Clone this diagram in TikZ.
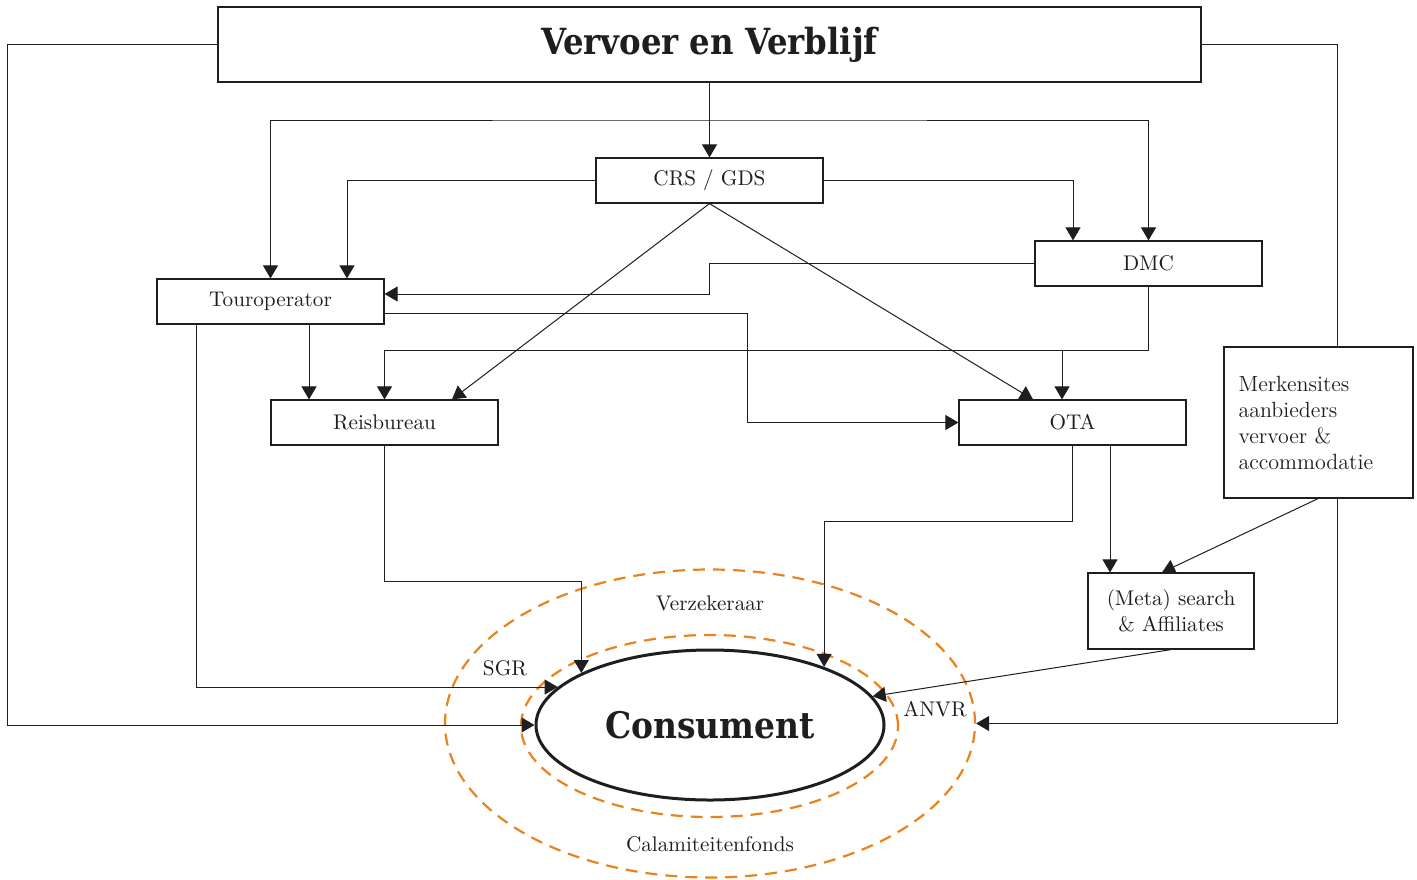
\documentclass[tikz,border=0pt]{standalone}
\usepackage{fontspec}
\usetikzlibrary{shapes.geometric,arrows.meta,calc}
\newfontfamily\heavyslab{DejaVu Serif Condensed}
\definecolor{ink}{RGB}{30,30,32}
\definecolor{dashorange}{RGB}{234,130,30}
\tikzset{
  box/.style={draw=ink,line width=0.6pt,fill=white,rectangle,inner sep=0pt,
    minimum width=113.5pt,minimum height=22.5pt,text=ink,
    font=\fontsize{10.6}{13}\selectfont},
  conn/.style={draw=ink,line width=0.5pt},
  arr/.style={conn,-{Triangle[length=6.5pt,width=7.5pt]}},
  lbl/.style={text=ink,font=\fontsize{10.6}{13}\selectfont,inner sep=0pt},
  orangering/.style={draw=dashorange,line width=1.1pt,dash pattern=on 6pt off 4pt,
    ellipse,inner sep=0pt}
}
\begin{document}
\begin{tikzpicture}[x=0.5pt,y=-0.5pt]
\useasboundingbox (0,0) rectangle (1417,879);
% rings
\node[orangering,minimum width=265pt,minimum height=154pt] (outer) at (710,723.5) {};
\node[orangering,minimum width=188.5pt,minimum height=91pt] (inner) at (709.5,726) {};
\node[draw=ink,line width=1.5pt,ellipse,inner sep=0pt,minimum width=174pt,minimum height=75pt,
  text=ink,font=\heavyslab\bfseries\fontsize{18.3}{20}\selectfont] (cons) at (710,725) {Consument};
% boxes
\node[box,minimum width=491.5pt,minimum height=37.5pt,
  font=\heavyslab\bfseries\fontsize{18}{20}\selectfont] (title) at (709.5,44.5) {Vervoer en Verblijf};
\node[box] (crs) at (709.5,180.5) {CRS / GDS};
\node[box] (dmc) at (1148.5,263.5) {DMC};
\node[box] (touro) at (270.5,301.5) {Touroperator};
\node[box] (reis) at (384.5,422.5) {Reisbureau};
\node[box] (ota) at (1072.5,422.5) {OTA};
\node[box,minimum width=94.5pt,minimum height=75.5pt,text width=80pt,align=left,
  inner xsep=7.25pt,font=\fontsize{11}{13}\selectfont] (merk) at (1318.5,422.5)
  {Merkensites\\aanbieders\\vervoer \&\\accommodatie};
\node[box,minimum width=83pt,minimum height=38pt,align=center] (meta) at (1171,611)
  {(Meta) search\\\& Affiliates};
% labels
\node[lbl] (verz) at (710,603) {Verzekeraar};
\node[lbl] (sgr) at (505,668) {SGR};
\node[lbl] (anvr) at (935,709) {ANVR};
\node[lbl] (cal) at (710,844) {Calamiteitenfonds};
% helper coordinates
\coordinate (ty) at (710,120);
\coordinate (y350) at (0,350);
\coordinate (y581) at (0,581);
\coordinate (mx) at (747,0);
\coordinate (lx) at (7,0);
\coordinate (rx) at (1337,0);
\coordinate (tp) at ([yshift=3.75pt]touro.east);
% connectors
\draw[arr] (title.south) -- (crs.north);
\draw[conn,{Triangle[length=6.5pt,width=7.5pt]}-{Triangle[length=6.5pt,width=7.5pt]}]
  (touro.north) |- (ty) -| (dmc.north);
\draw[arr] (crs.west) -| ([xshift=38.25pt]touro.north);
\draw[arr] (crs.east) -| ([xshift=-37.75pt]dmc.north);
\draw[arr] (dmc.west) -| (crs.center |- tp) -- (tp);
\draw[arr] ([yshift=-5.75pt]touro.east) -| (mx |- ota.west) -- (ota.west);
\draw[arr] (crs.south) -- ([xshift=33.75pt]reis.north);
\draw[arr] (crs.south) -- ([xshift=-19.75pt]ota.north);
\draw[arr] (dmc.south) |- (reis.north |- y350) -- (reis.north);
\draw[arr] ([xshift=-5.25pt]ota.north |- y350) -- ([xshift=-5.25pt]ota.north);
\draw[arr] ([xshift=19.25pt]touro.south) -- ([xshift=19.25pt]touro.south |- reis.north);
\draw[arr] ([xshift=-37.25pt]touro.south) |- (cons.166);
\draw[arr] (reis.south) -- (reis.south |- y581) -| (cons.158);
\draw[arr] (ota.south) -- ++(0,76) -| (cons.27);
\draw[arr] ([xshift=18.75pt]ota.south) -- ([xshift=18.75pt]ota.south |- meta.north);
\draw[arr] ([xshift=-0.25pt]merk.south) -- ([xshift=-4.5pt]meta.north);
\draw[arr] (meta.south) -- (cons.10);
\draw[arr] (title.west) -| (lx |- cons.west) -- (cons.west);
\draw[conn] (title.east) -| (rx |- merk.north);
\draw[arr] (rx |- merk.south) |- (outer.east);
\end{tikzpicture}
\end{document}
